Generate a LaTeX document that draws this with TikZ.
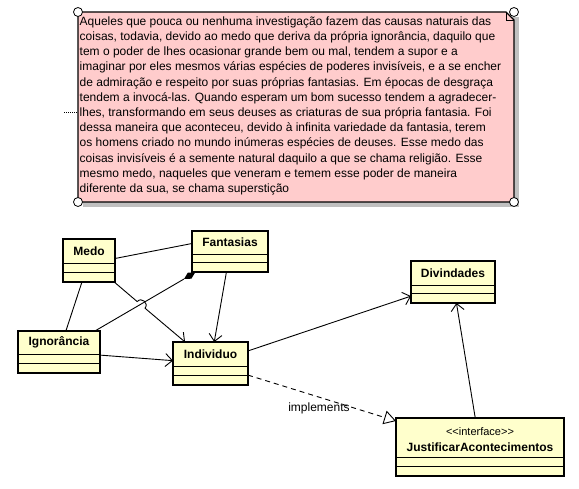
\documentclass[tikz,border=0pt]{standalone}
\usepackage{fontspec}
\setmainfont{Liberation Sans}
\usetikzlibrary{arrows.meta,calc}
\definecolor{notefill}{RGB}{255,204,204}
\definecolor{clsfill}{RGB}{255,255,204}
\definecolor{shadowgray}{RGB}{192,192,192}
\newcommand{\umlbox}[7]{%
  \node[clsbox, minimum width=#4pt, minimum height=#5pt, anchor=north west] (#1) at (#2,#3) {};
  \draw[sepline] ($(#1.north west)+(0,#6)$) -- ($(#1.north east)+(0,#6)$);
  \draw[sepline] ($(#1.south west)+(0,-10)$) -- ($(#1.south east)+(0,-10)$);
  \node[clstitle] (#1-t) at ($(#1.north)+(0,#6/2)$) {#7};
}
\begin{document}
\begin{tikzpicture}[x=1pt,y=-1pt,
  clsbox/.style={draw=black, line width=2pt, fill=clsfill, inner sep=0pt, outer sep=0pt},
  sepline/.style={line width=0.9pt},
  clstitle/.style={font=\fontsize{12}{14}\selectfont\bfseries, inner sep=0pt},
  conn/.style={line width=0.9pt},
  assoc/.style={conn, arrows={-{Straight Barb[length=7pt,width=13pt,line width=0.9pt]}}},
  realize/.style={conn, dash pattern=on 5pt off 4pt, arrows={-{Triangle[open,length=12pt,width=14pt,fill=white,line width=0.9pt]}}},
  notetext/.style={font=\fontsize{12}{15.2}\selectfont, align=left, inner sep=0pt, anchor=north west},
  handle/.style={circle, draw=black, fill=white, line width=0.8pt, minimum size=9pt, inner sep=0pt}
]
\useasboundingbox (0,0) rectangle (579,489);

% ---- note ----
\fill[shadowgray] (83,17) rectangle (519,207);
\draw[fill=notefill, line width=1.1pt] (78,12) -- (506,12) -- (514,20) -- (514,202) -- (78,202) -- cycle;
\draw[line width=0.8pt] (506,12) -- (506,20) -- (514,20);
\node[notetext] (notetxt) at (79.5,16.5) {Aqueles que pouca ou nenhuma investigação fazem das causas naturais das\\
coisas, todavia, devido ao medo que deriva da própria ignorância, daquilo que\\
tem o poder de lhes ocasionar grande bem ou mal, tendem a supor e a\\
imaginar por eles mesmos várias espécies de poderes invisíveis, e a se encher\\
de admiração e respeito por suas próprias fantasias. Em épocas de desgraça\\
tendem a invocá-las. Quando esperam um bom sucesso tendem a agradecer-\\
lhes, transformando em seus deuses as criaturas de sua própria fantasia. Foi\\
dessa maneira que aconteceu, devido à infinita variedade da fantasia, terem\\
os homens criado no mundo inúmeras espécies de deuses. Esse medo das\\
coisas invisíveis é a semente natural daquilo a que se chama religião. Esse\\
mesmo medo, naqueles que veneram e temem esse poder de maneira\\
diferente da sua, se chama superstição};
\node[handle] (h1) at (78,12) {};
\node[handle] (h2) at (514,12) {};
\node[handle] (h3) at (78,202) {};
\node[handle] (h4) at (514,202) {};
\coordinate (dotA) at (64,112);
\coordinate (dotB) at (77,112);
\draw[line width=0.9pt, dash pattern=on 1pt off 1pt] (dotA) -- (dotB);

% ---- classes ----
\umlbox{medo}{63}{239}{52}{43}{24}{Medo}
\umlbox{fant}{192}{231}{76}{41}{23}{Fantasias}
\umlbox{ign}{18}{331}{82}{42}{23}{Ignorância}
\umlbox{indiv}{173}{342}{75}{43}{24}{Individuo}
\umlbox{divin}{411}{261}{84}{42}{24}{Divindades}
\node[clsbox, minimum width=168pt, minimum height=58pt, anchor=north west] (just) at (396,418) {};
\draw[sepline] ($(just.north west)+(0,39)$) -- ($(just.north east)+(0,39)$);
\draw[sepline] ($(just.south west)+(0,-10)$) -- ($(just.south east)+(0,-10)$);
\node[font=\fontsize{11}{13}\selectfont, inner sep=0pt] (just-s) at ($(just.north)+(0,14)$) {<\kern0pt<interface>\kern0pt>};
\node[clstitle] (just-t) at ($(just.north)+(0,29)$) {JustificarAcontecimentos};

% ---- connectors ----
\draw[conn] ($(medo.east)+(0,-2)$) -- ($(fant.west)+(0,-8)$);
\draw[conn] (medo) -- (ign);
% composition (filled diamond at Fantasias)
\coordinate (dtip) at (195.2,272.4);
\coordinate (dside1) at (191.4,278.7);
\coordinate (dside2) at (187.8,272.7);
\coordinate (dback) at (184.0,279.0);
\fill[black] (dtip) -- (dside1) -- (dback) -- (dside2) -- cycle;
\draw[conn] (dback) -- (ign);
\coordinate (hopA) at (137.2,301.6);
\coordinate (hopB) at (145.0,308.2);
\draw[conn] (medo) -- (hopA) .. controls +(4.2,-5.0) and +(4.2,-5.0) .. (hopB);
\draw[assoc] (hopB) -- (indiv);
\draw[assoc] (fant) -- (indiv);
\draw[assoc] (ign) -- (indiv);
\draw[assoc] (indiv) -- (divin);
\draw[assoc] (just) -- (divin);
\draw[realize] (indiv) -- (just);
\node[font=\fontsize{12}{14}\selectfont, inner sep=0pt] (impl) at (319,408) {implements};
\end{tikzpicture}
\end{document}
